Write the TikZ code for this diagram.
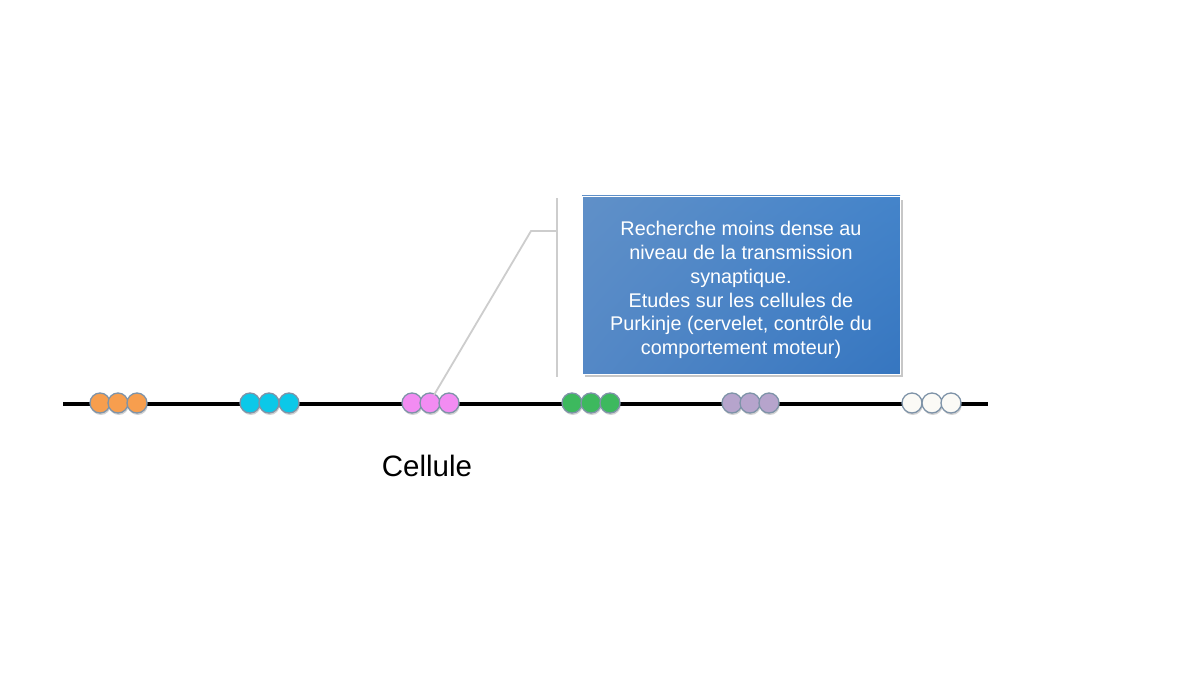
\documentclass[tikz,border=0pt]{standalone}
\usepackage{fontspec}
\setmainfont{Liberation Sans}
\usetikzlibrary{shadows,shadings,calc}
\definecolor{corange}{HTML}{F79E4E}
\definecolor{ccyan}{HTML}{0CC8E8}
\definecolor{cpink}{HTML}{F28CF2}
\definecolor{cgreen}{HTML}{3DB95E}
\definecolor{cpurple}{HTML}{B6A4CC}
\definecolor{cwhite}{HTML}{FBFAF6}
\definecolor{cborder}{HTML}{7E93A8}
\definecolor{callout}{HTML}{CDCDCD}
\definecolor{bul}{HTML}{6090C8}
\definecolor{bur}{HTML}{4484CA}
\definecolor{bll}{HTML}{5488C6}
\definecolor{blr}{HTML}{3676C0}
\tikzset{
  dot/.style={circle, minimum size=20pt, inner sep=0pt, draw=cborder, line width=1.3pt,
    drop shadow={shadow xshift=0.8pt, shadow yshift=-2pt, opacity=0.35}},
  axis/.style={line width=3.6pt, black},
  calloutline/.style={draw=callout, line width=1.8pt},
  boxtext/.style={text=white, font=\fontsize{19.8}{23.8}\selectfont, align=center}
}
\begin{document}
\begin{tikzpicture}[x=1pt,y=-1pt]
\useasboundingbox (0,0) rectangle (1200,674);
\fill[white] (0,0) rectangle (1200,674);
% axis
\coordinate (L) at (63,404);
\coordinate (R) at (988,404);
\draw[axis] (L) -- (R);
% circles
\foreach \c/\col/\a/\b/\d in {o/corange/100/118/137, c/ccyan/250/269/289, p/cpink/412/430/449, g/cgreen/572/591/610, v/cpurple/732/750/769, w/cwhite/912/932/951}{
  \node[dot, fill=\col] (\c1) at (\a,403) {};
  \node[dot, fill=\col] (\c2) at (\b,403) {};
  \node[dot, fill=\col] (\c3) at (\d,403) {};
}
% box
\fill[black, opacity=0.22] (585,200) rectangle (903,377);
\shade[upper left=bul, upper right=bur, lower left=bll, lower right=blr]
  (582,196) rectangle (900,374);
\draw[white, line width=0.8pt] (582,196) rectangle (900,374);
\node[boxtext] (box) at (741,290) {Recherche moins dense au\\niveau de la transmission\\synaptique.\\Etudes sur les cellules de\\Purkinje (cervelet, contrôle du\\comportement moteur)};
% callout
\coordinate (vt) at (557,198);
\coordinate (vb) at (557,377);
\coordinate (vm) at (557,231);
\coordinate (bend) at (531,231);
\draw[calloutline] (vt) -- (vb);
\draw[calloutline] (vm) -- (bend) -- ($(p2.center)+(4,-8)$);
% label
\node[font=\fontsize{29.5}{32}\selectfont] (lab) at (427,466) {Cellule};
\end{tikzpicture}
\end{document}
